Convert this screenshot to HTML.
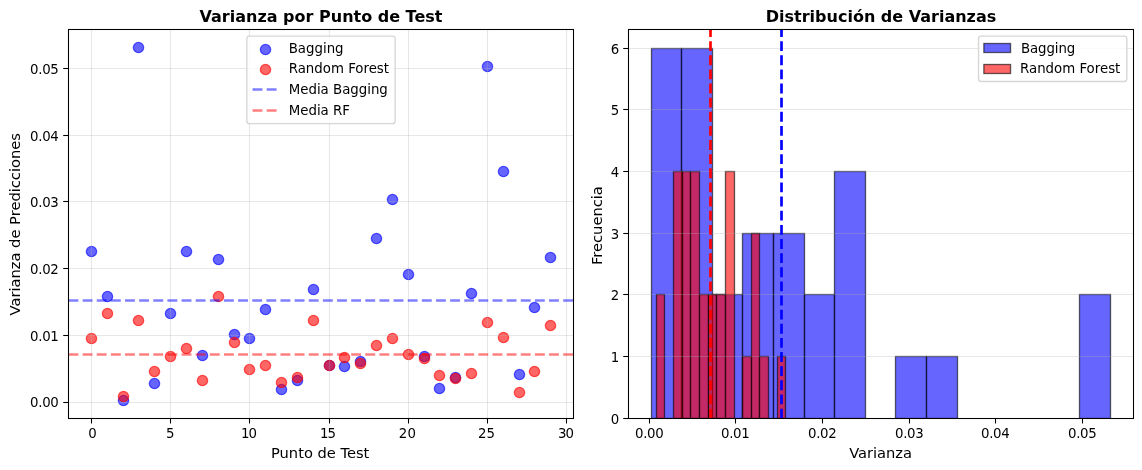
<!DOCTYPE html>
<html lang="es"><head><meta charset="utf-8"><title>Varianza por Punto de Test</title>
<style>html,body{margin:0;padding:0;background:#fff}body{width:1142px;height:470px;overflow:hidden}</style></head>
<body>
<svg width="1142" height="470" viewBox="0 0 1142 470" style="display:block;font-family:'DejaVu Sans', 'Liberation Sans', sans-serif">
<rect x="0" y="0" width="1142" height="470" fill="#fff"/>
<defs><clipPath id="c1"><rect x="68.5" y="29.5" width="505.0" height="389.0"/></clipPath>
<clipPath id="c2"><rect x="628.5" y="29.5" width="505.0" height="389.0"/></clipPath></defs>
<g clip-path="url(#c1)">
<circle cx="91.50" cy="251.5" r="5.164" fill="#00f" fill-opacity="0.6" stroke="#00f" stroke-opacity="0.6" stroke-width="1.333"/>
<circle cx="107.50" cy="296.5" r="5.164" fill="#00f" fill-opacity="0.6" stroke="#00f" stroke-opacity="0.6" stroke-width="1.333"/>
<circle cx="123.50" cy="400.5" r="5.164" fill="#00f" fill-opacity="0.6" stroke="#00f" stroke-opacity="0.6" stroke-width="1.333"/>
<circle cx="138.50" cy="47.5" r="5.164" fill="#00f" fill-opacity="0.6" stroke="#00f" stroke-opacity="0.6" stroke-width="1.333"/>
<circle cx="154.50" cy="383.5" r="5.164" fill="#00f" fill-opacity="0.6" stroke="#00f" stroke-opacity="0.6" stroke-width="1.333"/>
<circle cx="170.50" cy="313.5" r="5.164" fill="#00f" fill-opacity="0.6" stroke="#00f" stroke-opacity="0.6" stroke-width="1.333"/>
<circle cx="186.50" cy="251.5" r="5.164" fill="#00f" fill-opacity="0.6" stroke="#00f" stroke-opacity="0.6" stroke-width="1.333"/>
<circle cx="202.50" cy="355.5" r="5.164" fill="#00f" fill-opacity="0.6" stroke="#00f" stroke-opacity="0.6" stroke-width="1.333"/>
<circle cx="218.50" cy="259.5" r="5.164" fill="#00f" fill-opacity="0.6" stroke="#00f" stroke-opacity="0.6" stroke-width="1.333"/>
<circle cx="234.50" cy="334.5" r="5.164" fill="#00f" fill-opacity="0.6" stroke="#00f" stroke-opacity="0.6" stroke-width="1.333"/>
<circle cx="249.50" cy="338.5" r="5.164" fill="#00f" fill-opacity="0.6" stroke="#00f" stroke-opacity="0.6" stroke-width="1.333"/>
<circle cx="265.50" cy="309.5" r="5.164" fill="#00f" fill-opacity="0.6" stroke="#00f" stroke-opacity="0.6" stroke-width="1.333"/>
<circle cx="281.50" cy="389.5" r="5.164" fill="#00f" fill-opacity="0.6" stroke="#00f" stroke-opacity="0.6" stroke-width="1.333"/>
<circle cx="297.50" cy="380.5" r="5.164" fill="#00f" fill-opacity="0.6" stroke="#00f" stroke-opacity="0.6" stroke-width="1.333"/>
<circle cx="313.50" cy="289.5" r="5.164" fill="#00f" fill-opacity="0.6" stroke="#00f" stroke-opacity="0.6" stroke-width="1.333"/>
<circle cx="329.50" cy="365.5" r="5.164" fill="#00f" fill-opacity="0.6" stroke="#00f" stroke-opacity="0.6" stroke-width="1.333"/>
<circle cx="344.50" cy="366.5" r="5.164" fill="#00f" fill-opacity="0.6" stroke="#00f" stroke-opacity="0.6" stroke-width="1.333"/>
<circle cx="360.50" cy="361.5" r="5.164" fill="#00f" fill-opacity="0.6" stroke="#00f" stroke-opacity="0.6" stroke-width="1.333"/>
<circle cx="376.50" cy="238.5" r="5.164" fill="#00f" fill-opacity="0.6" stroke="#00f" stroke-opacity="0.6" stroke-width="1.333"/>
<circle cx="392.50" cy="199.5" r="5.164" fill="#00f" fill-opacity="0.6" stroke="#00f" stroke-opacity="0.6" stroke-width="1.333"/>
<circle cx="408.50" cy="274.5" r="5.164" fill="#00f" fill-opacity="0.6" stroke="#00f" stroke-opacity="0.6" stroke-width="1.333"/>
<circle cx="424.50" cy="356.5" r="5.164" fill="#00f" fill-opacity="0.6" stroke="#00f" stroke-opacity="0.6" stroke-width="1.333"/>
<circle cx="439.50" cy="388.5" r="5.164" fill="#00f" fill-opacity="0.6" stroke="#00f" stroke-opacity="0.6" stroke-width="1.333"/>
<circle cx="455.50" cy="377.5" r="5.164" fill="#00f" fill-opacity="0.6" stroke="#00f" stroke-opacity="0.6" stroke-width="1.333"/>
<circle cx="471.50" cy="293.5" r="5.164" fill="#00f" fill-opacity="0.6" stroke="#00f" stroke-opacity="0.6" stroke-width="1.333"/>
<circle cx="487.50" cy="66.5" r="5.164" fill="#00f" fill-opacity="0.6" stroke="#00f" stroke-opacity="0.6" stroke-width="1.333"/>
<circle cx="503.50" cy="171.5" r="5.164" fill="#00f" fill-opacity="0.6" stroke="#00f" stroke-opacity="0.6" stroke-width="1.333"/>
<circle cx="519.50" cy="374.5" r="5.164" fill="#00f" fill-opacity="0.6" stroke="#00f" stroke-opacity="0.6" stroke-width="1.333"/>
<circle cx="534.50" cy="307.5" r="5.164" fill="#00f" fill-opacity="0.6" stroke="#00f" stroke-opacity="0.6" stroke-width="1.333"/>
<circle cx="550.50" cy="257.5" r="5.164" fill="#00f" fill-opacity="0.6" stroke="#00f" stroke-opacity="0.6" stroke-width="1.333"/>
<circle cx="91.50" cy="338.5" r="5.164" fill="#f00" fill-opacity="0.6" stroke="#f00" stroke-opacity="0.6" stroke-width="1.333"/>
<circle cx="107.50" cy="313.5" r="5.164" fill="#f00" fill-opacity="0.6" stroke="#f00" stroke-opacity="0.6" stroke-width="1.333"/>
<circle cx="123.50" cy="396.5" r="5.164" fill="#f00" fill-opacity="0.6" stroke="#f00" stroke-opacity="0.6" stroke-width="1.333"/>
<circle cx="138.50" cy="320.5" r="5.164" fill="#f00" fill-opacity="0.6" stroke="#f00" stroke-opacity="0.6" stroke-width="1.333"/>
<circle cx="154.50" cy="371.5" r="5.164" fill="#f00" fill-opacity="0.6" stroke="#f00" stroke-opacity="0.6" stroke-width="1.333"/>
<circle cx="170.50" cy="356.5" r="5.164" fill="#f00" fill-opacity="0.6" stroke="#f00" stroke-opacity="0.6" stroke-width="1.333"/>
<circle cx="186.50" cy="348.5" r="5.164" fill="#f00" fill-opacity="0.6" stroke="#f00" stroke-opacity="0.6" stroke-width="1.333"/>
<circle cx="202.50" cy="380.5" r="5.164" fill="#f00" fill-opacity="0.6" stroke="#f00" stroke-opacity="0.6" stroke-width="1.333"/>
<circle cx="218.50" cy="296.5" r="5.164" fill="#f00" fill-opacity="0.6" stroke="#f00" stroke-opacity="0.6" stroke-width="1.333"/>
<circle cx="234.50" cy="342.5" r="5.164" fill="#f00" fill-opacity="0.6" stroke="#f00" stroke-opacity="0.6" stroke-width="1.333"/>
<circle cx="249.50" cy="369.5" r="5.164" fill="#f00" fill-opacity="0.6" stroke="#f00" stroke-opacity="0.6" stroke-width="1.333"/>
<circle cx="265.50" cy="365.5" r="5.164" fill="#f00" fill-opacity="0.6" stroke="#f00" stroke-opacity="0.6" stroke-width="1.333"/>
<circle cx="281.50" cy="382.5" r="5.164" fill="#f00" fill-opacity="0.6" stroke="#f00" stroke-opacity="0.6" stroke-width="1.333"/>
<circle cx="297.50" cy="377.5" r="5.164" fill="#f00" fill-opacity="0.6" stroke="#f00" stroke-opacity="0.6" stroke-width="1.333"/>
<circle cx="313.50" cy="320.5" r="5.164" fill="#f00" fill-opacity="0.6" stroke="#f00" stroke-opacity="0.6" stroke-width="1.333"/>
<circle cx="329.50" cy="365.5" r="5.164" fill="#f00" fill-opacity="0.6" stroke="#f00" stroke-opacity="0.6" stroke-width="1.333"/>
<circle cx="344.50" cy="357.5" r="5.164" fill="#f00" fill-opacity="0.6" stroke="#f00" stroke-opacity="0.6" stroke-width="1.333"/>
<circle cx="360.50" cy="363.5" r="5.164" fill="#f00" fill-opacity="0.6" stroke="#f00" stroke-opacity="0.6" stroke-width="1.333"/>
<circle cx="376.50" cy="345.5" r="5.164" fill="#f00" fill-opacity="0.6" stroke="#f00" stroke-opacity="0.6" stroke-width="1.333"/>
<circle cx="392.50" cy="338.5" r="5.164" fill="#f00" fill-opacity="0.6" stroke="#f00" stroke-opacity="0.6" stroke-width="1.333"/>
<circle cx="408.50" cy="354.5" r="5.164" fill="#f00" fill-opacity="0.6" stroke="#f00" stroke-opacity="0.6" stroke-width="1.333"/>
<circle cx="424.50" cy="358.5" r="5.164" fill="#f00" fill-opacity="0.6" stroke="#f00" stroke-opacity="0.6" stroke-width="1.333"/>
<circle cx="439.50" cy="375.5" r="5.164" fill="#f00" fill-opacity="0.6" stroke="#f00" stroke-opacity="0.6" stroke-width="1.333"/>
<circle cx="455.50" cy="378.5" r="5.164" fill="#f00" fill-opacity="0.6" stroke="#f00" stroke-opacity="0.6" stroke-width="1.333"/>
<circle cx="471.50" cy="373.5" r="5.164" fill="#f00" fill-opacity="0.6" stroke="#f00" stroke-opacity="0.6" stroke-width="1.333"/>
<circle cx="487.50" cy="322.5" r="5.164" fill="#f00" fill-opacity="0.6" stroke="#f00" stroke-opacity="0.6" stroke-width="1.333"/>
<circle cx="503.50" cy="337.5" r="5.164" fill="#f00" fill-opacity="0.6" stroke="#f00" stroke-opacity="0.6" stroke-width="1.333"/>
<circle cx="519.50" cy="392.5" r="5.164" fill="#f00" fill-opacity="0.6" stroke="#f00" stroke-opacity="0.6" stroke-width="1.333"/>
<circle cx="534.50" cy="371.5" r="5.164" fill="#f00" fill-opacity="0.6" stroke="#f00" stroke-opacity="0.6" stroke-width="1.333"/>
<circle cx="550.50" cy="325.5" r="5.164" fill="#f00" fill-opacity="0.6" stroke="#f00" stroke-opacity="0.6" stroke-width="1.333"/>
</g>
<line x1="91.5" y1="29.5" x2="91.5" y2="418.5" stroke="#b0b0b0" stroke-opacity="0.3" stroke-width="1.07"/>
<line x1="170.5" y1="29.5" x2="170.5" y2="418.5" stroke="#b0b0b0" stroke-opacity="0.3" stroke-width="1.07"/>
<line x1="249.5" y1="29.5" x2="249.5" y2="418.5" stroke="#b0b0b0" stroke-opacity="0.3" stroke-width="1.07"/>
<line x1="329.5" y1="29.5" x2="329.5" y2="418.5" stroke="#b0b0b0" stroke-opacity="0.3" stroke-width="1.07"/>
<line x1="408.5" y1="29.5" x2="408.5" y2="418.5" stroke="#b0b0b0" stroke-opacity="0.3" stroke-width="1.07"/>
<line x1="487.5" y1="29.5" x2="487.5" y2="418.5" stroke="#b0b0b0" stroke-opacity="0.3" stroke-width="1.07"/>
<line x1="566.5" y1="29.5" x2="566.5" y2="418.5" stroke="#b0b0b0" stroke-opacity="0.3" stroke-width="1.07"/>
<line x1="68.5" y1="402.5" x2="573.5" y2="402.5" stroke="#b0b0b0" stroke-opacity="0.3" stroke-width="1.07"/>
<line x1="68.5" y1="335.5" x2="573.5" y2="335.5" stroke="#b0b0b0" stroke-opacity="0.3" stroke-width="1.07"/>
<line x1="68.5" y1="268.5" x2="573.5" y2="268.5" stroke="#b0b0b0" stroke-opacity="0.3" stroke-width="1.07"/>
<line x1="68.5" y1="201.5" x2="573.5" y2="201.5" stroke="#b0b0b0" stroke-opacity="0.3" stroke-width="1.07"/>
<line x1="68.5" y1="135.5" x2="573.5" y2="135.5" stroke="#b0b0b0" stroke-opacity="0.3" stroke-width="1.07"/>
<line x1="68.5" y1="68.5" x2="573.5" y2="68.5" stroke="#b0b0b0" stroke-opacity="0.3" stroke-width="1.07"/>
<line x1="68.5" y1="300.5" x2="573.5" y2="300.5" stroke="#00f" stroke-opacity="0.5" stroke-width="2.667" stroke-dasharray="9.867 4.267"/>
<line x1="68.5" y1="354.5" x2="573.5" y2="354.5" stroke="#f00" stroke-opacity="0.5" stroke-width="2.667" stroke-dasharray="9.867 4.267"/>
<line x1="91.5" y1="418.5" x2="91.5" y2="423.5" stroke="#000" stroke-width="1.07"/>
<line x1="170.5" y1="418.5" x2="170.5" y2="423.5" stroke="#000" stroke-width="1.07"/>
<line x1="249.5" y1="418.5" x2="249.5" y2="423.5" stroke="#000" stroke-width="1.07"/>
<line x1="329.5" y1="418.5" x2="329.5" y2="423.5" stroke="#000" stroke-width="1.07"/>
<line x1="408.5" y1="418.5" x2="408.5" y2="423.5" stroke="#000" stroke-width="1.07"/>
<line x1="487.5" y1="418.5" x2="487.5" y2="423.5" stroke="#000" stroke-width="1.07"/>
<line x1="566.5" y1="418.5" x2="566.5" y2="423.5" stroke="#000" stroke-width="1.07"/>
<line x1="63.2" y1="402.5" x2="68.5" y2="402.5" stroke="#000" stroke-width="1.07"/>
<line x1="63.2" y1="335.5" x2="68.5" y2="335.5" stroke="#000" stroke-width="1.07"/>
<line x1="63.2" y1="268.5" x2="68.5" y2="268.5" stroke="#000" stroke-width="1.07"/>
<line x1="63.2" y1="201.5" x2="68.5" y2="201.5" stroke="#000" stroke-width="1.07"/>
<line x1="63.2" y1="135.5" x2="68.5" y2="135.5" stroke="#000" stroke-width="1.07"/>
<line x1="63.2" y1="68.5" x2="68.5" y2="68.5" stroke="#000" stroke-width="1.07"/>
<rect x="68.5" y="29.5" width="505.0" height="389.0" fill="none" stroke="#000" stroke-width="1.07" stroke-linejoin="miter"/>
<text x="92.20" y="437.8" font-size="13.333" text-anchor="middle" letter-spacing="-0.35">0</text>
<text x="170.15" y="437.8" font-size="13.333" text-anchor="middle" letter-spacing="-0.35">5</text>
<text x="248.50" y="437.8" font-size="13.333" text-anchor="middle" letter-spacing="-1">10</text>
<text x="327.60" y="437.8" font-size="13.333" text-anchor="middle" letter-spacing="-1">15</text>
<text x="407.50" y="437.8" font-size="13.333" text-anchor="middle" letter-spacing="0.3">20</text>
<text x="486.50" y="437.8" font-size="13.333" text-anchor="middle" letter-spacing="0">25</text>
<text x="565.50" y="437.8" font-size="13.333" text-anchor="middle" letter-spacing="-1">30</text>
<text x="58.4" y="406.9" font-size="13.333" text-anchor="end" letter-spacing="-0.35">0.00</text>
<text x="58.4" y="340.9" font-size="13.333" text-anchor="end" letter-spacing="-0.35">0.01</text>
<text x="58.4" y="273.9" font-size="13.333" text-anchor="end" letter-spacing="-0.35">0.02</text>
<text x="58.4" y="206.9" font-size="13.333" text-anchor="end" letter-spacing="-0.35">0.03</text>
<text x="58.4" y="140.9" font-size="13.333" text-anchor="end" letter-spacing="-0.35">0.04</text>
<text x="58.4" y="73.9" font-size="13.333" text-anchor="end" letter-spacing="-0.35">0.05</text>
<text x="320.2" y="457.8" font-size="14.667" text-anchor="middle">Punto de Test</text>
<text transform="translate(19.9,224.3) rotate(-90)" font-size="14.667" text-anchor="middle">Varianza de Predicciones</text>
<text x="321" y="22.4" font-size="16" font-weight="bold" text-anchor="middle">Varianza por Punto de Test</text>
<rect x="246.85" y="36.2" width="148.3" height="87.5" rx="2.67" ry="2.67" fill="#fff" fill-opacity="0.8" stroke="#ccc" stroke-opacity="0.8" stroke-width="1.333"/>
<circle cx="265.52" cy="49.5" r="5.164" fill="#00f" fill-opacity="0.6" stroke="#00f" stroke-opacity="0.6" stroke-width="1.333"/>
<circle cx="265.52" cy="69.5" r="5.164" fill="#f00" fill-opacity="0.6" stroke="#f00" stroke-opacity="0.6" stroke-width="1.333"/>
<line x1="252.58" y1="89.5" x2="279.25" y2="89.5" stroke="#00f" stroke-opacity="0.5" stroke-width="2.667" stroke-dasharray="9.867 4.267"/>
<line x1="252.58" y1="110.5" x2="279.25" y2="110.5" stroke="#f00" stroke-opacity="0.5" stroke-width="2.667" stroke-dasharray="9.867 4.267"/>
<text x="288.72" y="53" font-size="13.333">Bagging</text>
<text x="288.72" y="73" font-size="13.333">Random Forest</text>
<text x="288.72" y="94" font-size="13.333">Media Bagging</text>
<text x="288.72" y="115" font-size="13.333">Media RF</text>
<g clip-path="url(#c2)">
<rect x="651.50" y="48.50" width="30.00" height="370.00" fill="#00f" fill-opacity="0.6" stroke="#000" stroke-opacity="0.6" stroke-width="1.333"/>
<rect x="681.50" y="48.50" width="31.00" height="370.00" fill="#00f" fill-opacity="0.6" stroke="#000" stroke-opacity="0.6" stroke-width="1.333"/>
<rect x="712.50" y="294.50" width="30.00" height="124.00" fill="#00f" fill-opacity="0.6" stroke="#000" stroke-opacity="0.6" stroke-width="1.333"/>
<rect x="742.50" y="233.50" width="31.00" height="185.00" fill="#00f" fill-opacity="0.6" stroke="#000" stroke-opacity="0.6" stroke-width="1.333"/>
<rect x="773.50" y="233.50" width="31.00" height="185.00" fill="#00f" fill-opacity="0.6" stroke="#000" stroke-opacity="0.6" stroke-width="1.333"/>
<rect x="804.50" y="294.50" width="30.00" height="124.00" fill="#00f" fill-opacity="0.6" stroke="#000" stroke-opacity="0.6" stroke-width="1.333"/>
<rect x="834.50" y="171.50" width="31.00" height="247.00" fill="#00f" fill-opacity="0.6" stroke="#000" stroke-opacity="0.6" stroke-width="1.333"/>
<rect x="895.50" y="356.50" width="31.00" height="62.00" fill="#00f" fill-opacity="0.6" stroke="#000" stroke-opacity="0.6" stroke-width="1.333"/>
<rect x="926.50" y="356.50" width="31.00" height="62.00" fill="#00f" fill-opacity="0.6" stroke="#000" stroke-opacity="0.6" stroke-width="1.333"/>
<rect x="1079.50" y="294.50" width="31.00" height="124.00" fill="#00f" fill-opacity="0.6" stroke="#000" stroke-opacity="0.6" stroke-width="1.333"/>
<rect x="656.50" y="294.50" width="8.00" height="124.00" fill="#f00" fill-opacity="0.6" stroke="#000" stroke-opacity="0.6" stroke-width="1.333"/>
<rect x="673.50" y="171.50" width="9.00" height="247.00" fill="#f00" fill-opacity="0.6" stroke="#000" stroke-opacity="0.6" stroke-width="1.333"/>
<rect x="682.50" y="171.50" width="8.00" height="247.00" fill="#f00" fill-opacity="0.6" stroke="#000" stroke-opacity="0.6" stroke-width="1.333"/>
<rect x="690.50" y="171.50" width="9.00" height="247.00" fill="#f00" fill-opacity="0.6" stroke="#000" stroke-opacity="0.6" stroke-width="1.333"/>
<rect x="699.50" y="294.50" width="9.00" height="124.00" fill="#f00" fill-opacity="0.6" stroke="#000" stroke-opacity="0.6" stroke-width="1.333"/>
<rect x="708.50" y="294.50" width="8.00" height="124.00" fill="#f00" fill-opacity="0.6" stroke="#000" stroke-opacity="0.6" stroke-width="1.333"/>
<rect x="716.50" y="294.50" width="9.00" height="124.00" fill="#f00" fill-opacity="0.6" stroke="#000" stroke-opacity="0.6" stroke-width="1.333"/>
<rect x="725.50" y="171.50" width="9.00" height="247.00" fill="#f00" fill-opacity="0.6" stroke="#000" stroke-opacity="0.6" stroke-width="1.333"/>
<rect x="742.50" y="356.50" width="9.00" height="62.00" fill="#f00" fill-opacity="0.6" stroke="#000" stroke-opacity="0.6" stroke-width="1.333"/>
<rect x="751.50" y="233.50" width="8.00" height="185.00" fill="#f00" fill-opacity="0.6" stroke="#000" stroke-opacity="0.6" stroke-width="1.333"/>
<rect x="759.50" y="356.50" width="9.00" height="62.00" fill="#f00" fill-opacity="0.6" stroke="#000" stroke-opacity="0.6" stroke-width="1.333"/>
<rect x="777.50" y="356.50" width="8.00" height="62.00" fill="#f00" fill-opacity="0.6" stroke="#000" stroke-opacity="0.6" stroke-width="1.333"/>
</g>
<line x1="628.5" y1="418.5" x2="1133.5" y2="418.5" stroke="#b0b0b0" stroke-opacity="0.3" stroke-width="1.07"/>
<line x1="628.5" y1="356.5" x2="1133.5" y2="356.5" stroke="#b0b0b0" stroke-opacity="0.3" stroke-width="1.07"/>
<line x1="628.5" y1="294.5" x2="1133.5" y2="294.5" stroke="#b0b0b0" stroke-opacity="0.3" stroke-width="1.07"/>
<line x1="628.5" y1="233.5" x2="1133.5" y2="233.5" stroke="#b0b0b0" stroke-opacity="0.3" stroke-width="1.07"/>
<line x1="628.5" y1="171.5" x2="1133.5" y2="171.5" stroke="#b0b0b0" stroke-opacity="0.3" stroke-width="1.07"/>
<line x1="628.5" y1="109.5" x2="1133.5" y2="109.5" stroke="#b0b0b0" stroke-opacity="0.3" stroke-width="1.07"/>
<line x1="628.5" y1="48.5" x2="1133.5" y2="48.5" stroke="#b0b0b0" stroke-opacity="0.3" stroke-width="1.07"/>
<line x1="781.5" y1="418.5" x2="781.5" y2="29.5" stroke="#00f" stroke-width="2.667" stroke-dasharray="9.867 4.267"/>
<line x1="710.5" y1="418.5" x2="710.5" y2="29.5" stroke="#f00" stroke-width="2.667" stroke-dasharray="9.867 4.267"/>
<line x1="649.5" y1="418.5" x2="649.5" y2="423.5" stroke="#000" stroke-width="1.07"/>
<line x1="735.5" y1="418.5" x2="735.5" y2="423.5" stroke="#000" stroke-width="1.07"/>
<line x1="822.5" y1="418.5" x2="822.5" y2="423.5" stroke="#000" stroke-width="1.07"/>
<line x1="909.5" y1="418.5" x2="909.5" y2="423.5" stroke="#000" stroke-width="1.07"/>
<line x1="995.5" y1="418.5" x2="995.5" y2="423.5" stroke="#000" stroke-width="1.07"/>
<line x1="1082.5" y1="418.5" x2="1082.5" y2="423.5" stroke="#000" stroke-width="1.07"/>
<line x1="623.2" y1="418.5" x2="628.5" y2="418.5" stroke="#000" stroke-width="1.07"/>
<line x1="623.2" y1="356.5" x2="628.5" y2="356.5" stroke="#000" stroke-width="1.07"/>
<line x1="623.2" y1="294.5" x2="628.5" y2="294.5" stroke="#000" stroke-width="1.07"/>
<line x1="623.2" y1="233.5" x2="628.5" y2="233.5" stroke="#000" stroke-width="1.07"/>
<line x1="623.2" y1="171.5" x2="628.5" y2="171.5" stroke="#000" stroke-width="1.07"/>
<line x1="623.2" y1="109.5" x2="628.5" y2="109.5" stroke="#000" stroke-width="1.07"/>
<line x1="623.2" y1="48.5" x2="628.5" y2="48.5" stroke="#000" stroke-width="1.07"/>
<rect x="628.5" y="29.5" width="505.0" height="389.0" fill="none" stroke="#000" stroke-width="1.07"/>
<text x="649.15" y="437.8" font-size="13.333" text-anchor="middle" letter-spacing="-0.35">0.00</text>
<text x="735.15" y="437.8" font-size="13.333" text-anchor="middle" letter-spacing="-0.35">0.01</text>
<text x="822.15" y="437.8" font-size="13.333" text-anchor="middle" letter-spacing="-0.35">0.02</text>
<text x="909.15" y="437.8" font-size="13.333" text-anchor="middle" letter-spacing="-0.35">0.03</text>
<text x="995.15" y="437.8" font-size="13.333" text-anchor="middle" letter-spacing="-0.35">0.04</text>
<text x="1082.15" y="437.8" font-size="13.333" text-anchor="middle" letter-spacing="-0.35">0.05</text>
<text x="619.17" y="423.9" font-size="13.333" text-anchor="end">0</text>
<text x="619.17" y="361.9" font-size="13.333" text-anchor="end">1</text>
<text x="619.17" y="299.9" font-size="13.333" text-anchor="end">2</text>
<text x="619.17" y="238.9" font-size="13.333" text-anchor="end">3</text>
<text x="619.17" y="176.9" font-size="13.333" text-anchor="end">4</text>
<text x="619.17" y="114.9" font-size="13.333" text-anchor="end">5</text>
<text x="619.17" y="53.9" font-size="13.333" text-anchor="end">6</text>
<text x="880.6" y="457.8" font-size="14.667" text-anchor="middle">Varianza</text>
<text transform="translate(602.1,225.6) rotate(-90)" font-size="14.667" text-anchor="middle">Frecuencia</text>
<text x="881" y="22.4" font-size="16" font-weight="bold" text-anchor="middle">Distribución de Varianzas</text>
<rect x="978.53" y="36.2" width="148.3" height="45.3" rx="2.67" ry="2.67" fill="#fff" fill-opacity="0.8" stroke="#ccc" stroke-opacity="0.8" stroke-width="1.333"/>
<rect x="983.87" y="43.5" width="26.667" height="9" fill="#00f" fill-opacity="0.6" stroke="#000" stroke-opacity="0.6" stroke-width="1.333"/>
<rect x="983.87" y="64.5" width="26.667" height="9" fill="#f00" fill-opacity="0.6" stroke="#000" stroke-opacity="0.6" stroke-width="1.333"/>
<text x="1021.00" y="53" font-size="13.333" letter-spacing="-0.1">Bagging</text>
<text x="1020.00" y="73" font-size="13.333">Random Forest</text>
</svg>
</body></html>
